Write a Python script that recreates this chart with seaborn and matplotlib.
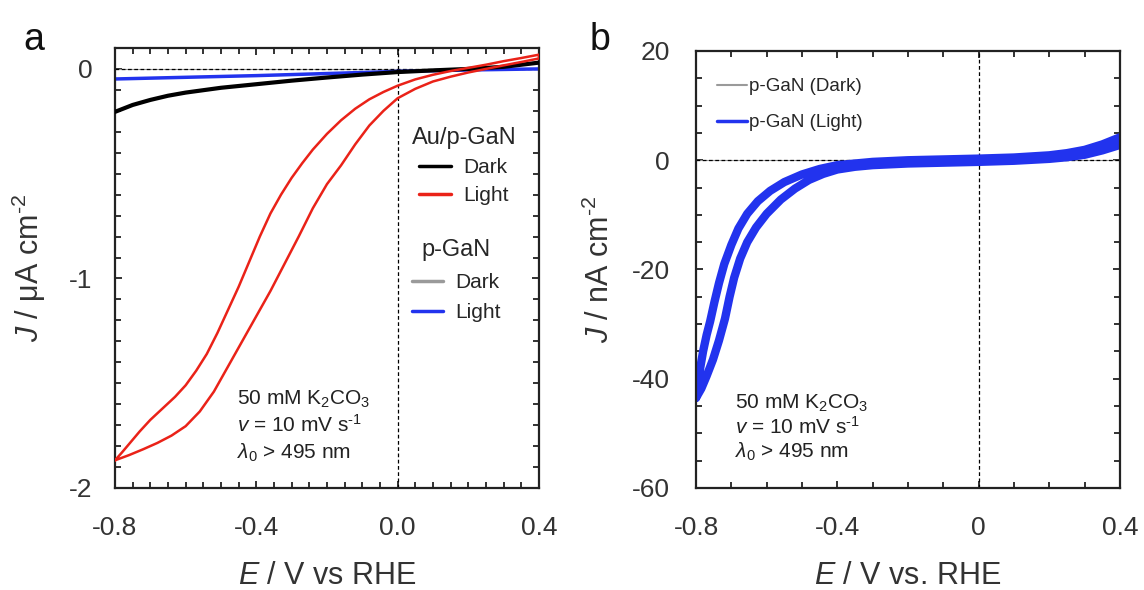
import numpy as np
import pandas as pd
import seaborn as sns
import matplotlib.pyplot as plt
from matplotlib.lines import Line2D
from matplotlib.ticker import MultipleLocator, FormatStrFormatter

# ---- panel a : Au/p-GaN and p-GaN, J in uA cm-2 ----
# Au/p-GaN under light: forward branch (left curve) and return branch (right curve)
au_light_up_E = [-0.80, -0.78, -0.76, -0.73, -0.70, -0.665, -0.63, -0.60, -0.57, -0.54,
                 -0.51, -0.48, -0.45, -0.42, -0.39, -0.36, -0.33, -0.30, -0.27, -0.24,
                 -0.20, -0.16, -0.12, -0.08, -0.04, 0.0, 0.05, 0.10, 0.15, 0.20,
                 0.25, 0.30, 0.35, 0.40]
au_light_up_J = [-1.868, -1.83, -1.79, -1.73, -1.675, -1.62, -1.565, -1.51, -1.44, -1.36,
                 -1.26, -1.15, -1.04, -0.92, -0.80, -0.69, -0.60, -0.52, -0.45, -0.385,
                 -0.31, -0.245, -0.19, -0.145, -0.11, -0.08, -0.05, -0.028, -0.01, 0.005,
                 0.02, 0.037, 0.052, 0.068]
au_light_down_E = [0.40, 0.35, 0.30, 0.25, 0.20, 0.15, 0.10, 0.05, 0.0, -0.04,
                   -0.08, -0.12, -0.16, -0.20, -0.24, -0.28, -0.32, -0.36, -0.40, -0.44,
                   -0.48, -0.52, -0.56, -0.60, -0.64, -0.68, -0.72, -0.76, -0.80]
au_light_down_J = [0.05, 0.033, 0.017, 0.0, -0.017, -0.037, -0.06, -0.095, -0.14, -0.20,
                   -0.27, -0.36, -0.46, -0.55, -0.665, -0.80, -0.93, -1.06, -1.18, -1.30,
                   -1.42, -1.54, -1.635, -1.705, -1.75, -1.785, -1.815, -1.843, -1.868]

au_dark_E = [-0.80, -0.75, -0.70, -0.65, -0.60, -0.50, -0.40, -0.30, -0.20, -0.10,
             0.0, 0.10, 0.20, 0.30, 0.40]
au_dark_J = [-0.205, -0.172, -0.148, -0.128, -0.113, -0.09, -0.073, -0.056, -0.041, -0.027,
             -0.015, -0.007, 0.0, 0.01, 0.03]

gan_light_E = [-0.80, -0.60, -0.40, -0.20, 0.0, 0.20, 0.40]
gan_light_J = [-0.048, -0.040, -0.032, -0.022, -0.012, -0.005, 0.0]
gan_dark_E = [-0.80, -0.40, 0.0, 0.40]
gan_dark_J = [0.0, 0.0, 0.0, 0.0]

# ---- panel b : p-GaN, J in nA cm-2 ----
b_light_up_E = [-0.80, -0.795, -0.788, -0.78, -0.77, -0.76, -0.748, -0.735, -0.72, -0.70,
                -0.68, -0.655, -0.625, -0.59, -0.55, -0.50, -0.45, -0.40, -0.30, -0.20,
                -0.10, 0.0, 0.10, 0.20, 0.25, 0.30, 0.35, 0.40]
b_light_up_J = [-43.5, -41, -38, -35, -32, -29.5, -26, -22.5, -19, -15.5,
                -12.5, -9.8, -7.5, -5.6, -4.0, -2.6, -1.6, -0.9, -0.3, 0.0,
                0.15, 0.3, 0.5, 0.9, 1.3, 1.9, 2.9, 4.2]
b_light_down_E = [0.40, 0.35, 0.30, 0.25, 0.20, 0.10, 0.0, -0.10, -0.20, -0.30,
                  -0.35, -0.40, -0.44, -0.48, -0.52, -0.56, -0.60, -0.63, -0.655, -0.675,
                  -0.692, -0.705, -0.718, -0.735, -0.752, -0.77, -0.785, -0.80]
b_light_down_J = [2.8, 1.8, 1.0, 0.55, 0.25, -0.1, -0.3, -0.45, -0.6, -0.9,
                  -1.2, -1.7, -2.5, -3.6, -5.2, -7.2, -9.8, -12.3, -15.0, -18.0,
                  -21.5, -25, -29, -33, -36.5, -39.5, -41.8, -43.5]
b_dark_E = [-0.80, -0.40, 0.0, 0.40]
b_dark_J = [0.0, 0.0, 0.0, 0.0]

red = '#ea2218'
blue = '#2233ee'
gray = '#9a9a9a'

sns.set_theme(style='ticks')
plt.rcParams['font.family'] = ['Liberation Sans', 'DejaVu Sans']
plt.rcParams['mathtext.fontset'] = 'custom'
plt.rcParams['mathtext.rm'] = 'Liberation Sans'
plt.rcParams['mathtext.it'] = 'Liberation Sans:italic'
plt.rcParams['axes.unicode_minus'] = False


def loop(e1, j1, e2, j2):
    return pd.DataFrame({'E': list(e1) + list(e2), 'J': list(j1) + list(j2)})


def style_axes(ax, xminor, ymajor, yminor, ypad):
    ax.xaxis.set_major_locator(MultipleLocator(0.4))
    ax.xaxis.set_minor_locator(MultipleLocator(xminor))
    ax.yaxis.set_major_locator(MultipleLocator(ymajor))
    ax.yaxis.set_minor_locator(MultipleLocator(yminor))
    ax.tick_params(which='both', direction='in', top=True, right=True, width=1.3,
                   colors='#222222', labelcolor='#333333')
    ax.tick_params(which='major', length=5, labelsize=19)
    ax.tick_params(axis='x', which='major', pad=20)
    ax.tick_params(axis='y', which='major', pad=ypad)
    ax.tick_params(which='minor', length=4)
    for s in ax.spines.values():
        s.set_linewidth(1.6)
        s.set_color('#222222')
    ax.axhline(0, color='black', lw=0.9, ls=(0, (3, 2)), zorder=1.5)
    ax.axvline(0, color='black', lw=0.9, ls=(0, (3, 2)), zorder=1.5)


fig = plt.figure(figsize=(11.44, 5.9), dpi=100)
ax1 = fig.add_axes([0.1005, 0.1729, 0.3706, 0.7458])
ax2 = fig.add_axes([0.6084, 0.1729, 0.3706, 0.7407])

# panel a
sns.lineplot(data=pd.DataFrame({'E': gan_dark_E, 'J': gan_dark_J}), x='E', y='J',
             ax=ax1, color=gray, lw=0.8, sort=False, estimator=None, zorder=1)
sns.lineplot(data=pd.DataFrame({'E': gan_light_E, 'J': gan_light_J}), x='E', y='J',
             ax=ax1, color=blue, lw=2.5, sort=False, estimator=None, zorder=2)
sns.lineplot(data=pd.DataFrame({'E': au_dark_E, 'J': au_dark_J}), x='E', y='J',
             ax=ax1, color='black', lw=3.0, sort=False, estimator=None, zorder=3)
sns.lineplot(data=loop(au_light_up_E, au_light_up_J, au_light_down_E, au_light_down_J),
             x='E', y='J', ax=ax1, color=red, lw=1.8, sort=False, estimator=None, zorder=4)
ax1.set_xlim(-0.8, 0.4)
ax1.set_ylim(-2.0, 0.1)
style_axes(ax1, 0.05, 1, 0.1, 16)
ax1.xaxis.set_major_formatter(FormatStrFormatter('%.1f'))
ax1.yaxis.set_major_formatter(FormatStrFormatter('%d'))
ax1.set_xlabel(r'$E$ / V vs RHE', fontsize=22, color='#333333', labelpad=15)
ax1.set_ylabel(r'$J$ / μA cm$^{\text{-2}}$', fontsize=22, color='#333333', labelpad=15)

leg1 = ax1.legend(handles=[Line2D([], [], color='black', lw=2.5),
                           Line2D([], [], color=red, lw=2.5)],
                  labels=['Dark', 'Light'], title='Au/p-GaN', frameon=False,
                  loc='upper left', bbox_to_anchor=(0.68, 0.84), fontsize=15,
                  title_fontsize=17, handlelength=1.5, handletextpad=0.6,
                  labelspacing=0.45, borderaxespad=0)
ax1.add_artist(leg1)
ax1.legend(handles=[Line2D([], [], color=gray, lw=2.5),
                    Line2D([], [], color=blue, lw=2.5)],
           labels=['Dark', 'Light'], title='p-GaN', frameon=False,
           loc='upper left', bbox_to_anchor=(0.68, 0.584), fontsize=15,
           title_fontsize=17, handlelength=1.5, handletextpad=0.6,
           labelspacing=0.55, borderaxespad=0)

for ax, x0, ys in [(ax1, 0.288, (0.189, 0.127, 0.066)), (ax2, 0.092, (0.181, 0.124, 0.069))]:
    ax.text(x0, ys[0], r'50 mM K$_2$CO$_3$', transform=ax.transAxes, fontsize=15, color='#222222')
    ax.text(x0, ys[1], r'$v$ = 10 mV s$^{\text{-1}}$', transform=ax.transAxes, fontsize=15, color='#222222')
    ax.text(x0, ys[2], r'$\lambda_0$ > 495 nm', transform=ax.transAxes, fontsize=15, color='#222222')

# panel b
sns.lineplot(data=pd.DataFrame({'E': b_dark_E, 'J': b_dark_J}), x='E', y='J',
             ax=ax2, color=gray, lw=0.8, sort=False, estimator=None, zorder=1)
sns.lineplot(data=loop(b_light_up_E, b_light_up_J, b_light_down_E, b_light_down_J),
             x='E', y='J', ax=ax2, color=blue, lw=6.0, sort=False, estimator=None, zorder=2)
ax2.set_xlim(-0.8, 0.4)
ax2.set_ylim(-60, 20)
style_axes(ax2, 0.1, 20, 5, 19)
ax2.xaxis.set_major_formatter(plt.FuncFormatter(lambda v, p: '0' if abs(v) < 1e-9 else '%.1f' % v))
ax2.yaxis.set_major_formatter(FormatStrFormatter('%d'))
ax2.set_xlabel(r'$E$ / V vs. RHE', fontsize=22, color='#333333', labelpad=15)
ax2.set_ylabel(r'$J$ / nA cm$^{\text{-2}}$', fontsize=22, color='#333333', labelpad=11)
ax2.legend(handles=[Line2D([], [], color=gray, lw=1.5),
                    Line2D([], [], color=blue, lw=2.5)],
           labels=['p-GaN (Dark)', 'p-GaN (Light)'], frameon=False,
           loc='upper left', bbox_to_anchor=(0.031, 0.955), fontsize=13.5,
           handlelength=1.6, handletextpad=0.1, labelspacing=1.0, borderaxespad=0)

fig.text(0.020, 0.915, 'a', fontsize=27, color='#111111')
fig.text(0.515, 0.915, 'b', fontsize=27, color='#111111')

fig.savefig('out.png', dpi=100)
